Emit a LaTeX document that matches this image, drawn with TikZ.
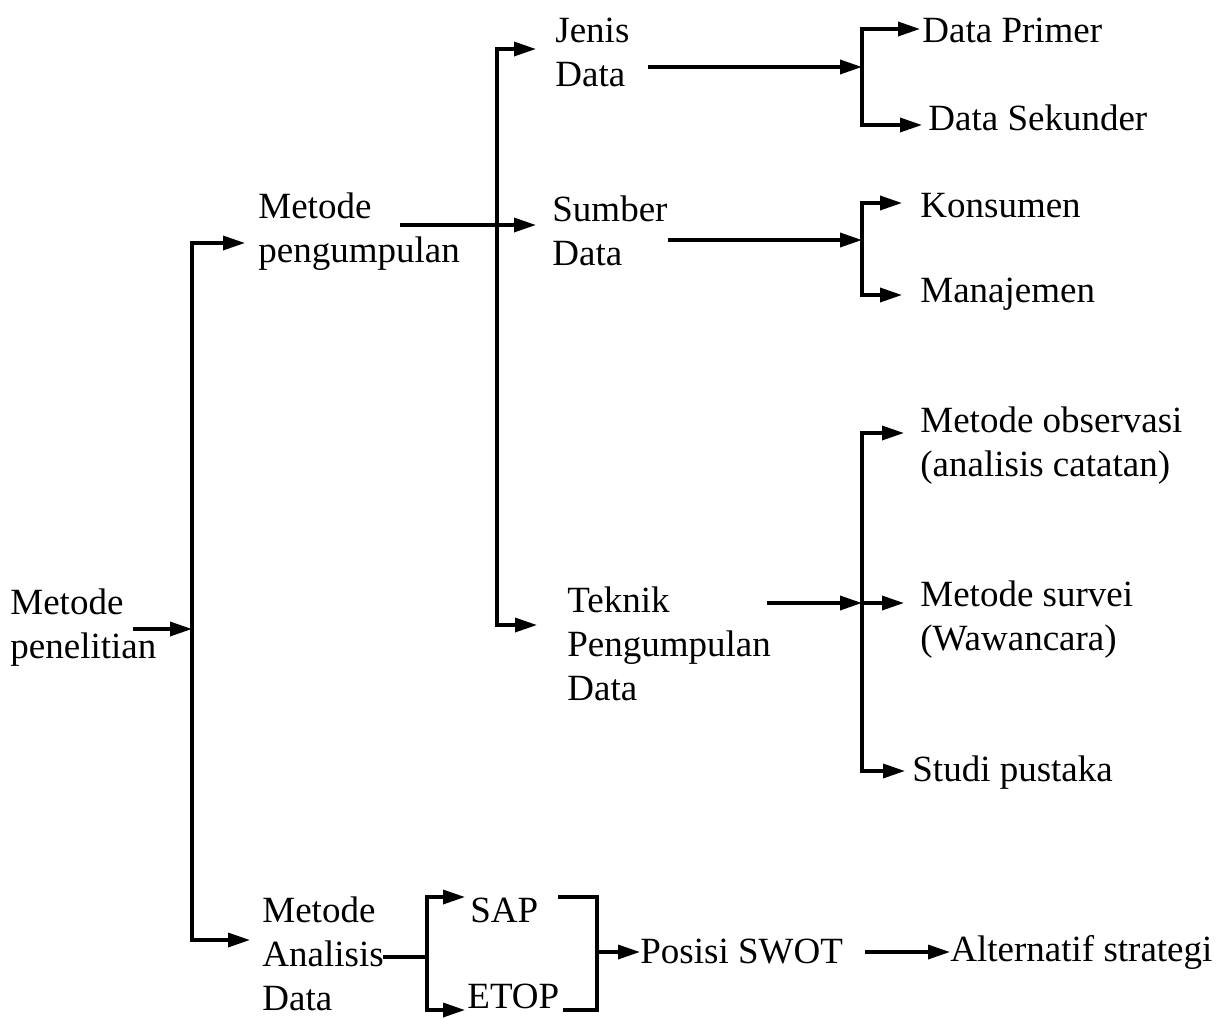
\documentclass[tikz,border=0pt]{standalone}
\usepackage{fontspec}
\setmainfont{Liberation Serif}
\usetikzlibrary{arrows.meta, positioning}

\begin{document}
\begin{tikzpicture}[x=0.5pt, y=-0.5pt]

  % styles
  \tikzstyle{item} = [anchor=west, inner sep=0pt, align=left, font=\fontsize{18.5}{22}\selectfont]
  \tikzstyle{arrow} = [line width=1.7pt, -{Triangle[length=11pt, width=7pt]}]
  \tikzstyle{line} = [line width=1.7pt]

  \useasboundingbox (0,0) rectangle (1220,1018);

  % root
  \node (pen) [item] at (10,628) {Metode\\penelitian};

  % level 1
  \node (kump) [item] at (258,232) {Metode\\pengumpulan};
  \node (anal) [item] at (262,954) {Metode\\Analisis\\Data};

  % level 2
  \node (jenis) [item] at (555,52) {Jenis\\Data};
  \node (sumber) [item] at (552,231) {Sumber\\Data};
  \node (teknik) [item] at (567,644) {Teknik\\Pengumpulan\\Data};

  % level 3
  \node (primer) [item] at (922,30) {Data Primer};
  \node (sekunder) [item] at (928,118) {Data Sekunder};
  \node (konsumen) [item] at (920,206) {Konsumen};
  \node (manaj) [item] at (920,294) {Manajemen};
  \node (obs) [item] at (920,446) {Metode observasi\\(analisis catatan)};
  \node (survei) [item] at (920,620) {Metode survei\\(Wawancara)};
  \node (studi) [item] at (912,773) {Studi pustaka};

  % analysis
  \node (sap) [item] at (470,910) {SAP};
  \node (etop) [item] at (467,996) {ETOP};
  \node (swot) [item] at (640,952) {Posisi SWOT};
  \node (alt) [item] at (950,952) {Alternatif strategi};

  % junctions
  \coordinate (penout) at (133,629);
  \coordinate (j1) at (192,629);
  \coordinate (kumpout) at (400,225);
  \coordinate (j2) at (497,225);
  \coordinate (jenisout) at (648,67);
  \coordinate (j3) at (862,67);
  \coordinate (sumberout) at (668,240);
  \coordinate (j4) at (862,240);
  \coordinate (teknikout) at (767,603);
  \coordinate (j5) at (862,603);
  \coordinate (analout) at (383,957);
  \coordinate (j6) at (427,957);
  \coordinate (sapout) at (558,897);
  \coordinate (etopout) at (563,1010);
  \coordinate (j7) at (597,952);
  \coordinate (swotout) at (865,952);

  % arrows
  \draw [arrow] (penout) -- (j1);
  \draw [arrow] (j1) |- (245,243);
  \draw [arrow] (j1) |- (250,940);

  \draw [line] (kumpout) -- (j2);
  \draw [arrow] (j2) -- (536,225);
  \draw [arrow] (j2) |- (536,49);
  \draw [arrow] (j2) |- (537,625);

  \draw [arrow] (jenisout) -- (j3);
  \draw [arrow] (j3) |- (920,29);
  \draw [arrow] (j3) |- (922,125);

  \draw [arrow] (sumberout) -- (j4);
  \draw [arrow] (j4) |- (902,203);
  \draw [arrow] (j4) |- (902,295);

  \draw [arrow] (teknikout) -- (j5);
  \draw [arrow] (j5) |- (904,433);
  \draw [arrow] (j5) -- (904,603);
  \draw [arrow] (j5) |- (905,771);

  \draw [line] (analout) -- (j6);
  \draw [arrow] (j6) |- (465,897);
  \draw [arrow] (j6) |- (465,1010);
  \draw [line] (sapout) -| (597,1010) -- (etopout);
  \draw [arrow] (j7) -- (swot.west);
  \draw [arrow] (swotout) -- (alt.west);

\end{tikzpicture}
\end{document}
